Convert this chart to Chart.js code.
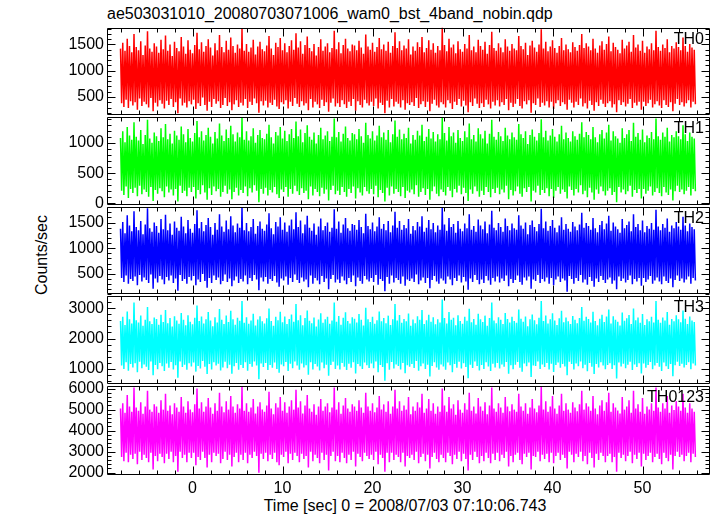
<!DOCTYPE html>
<html lang="en">
<head>
<meta charset="utf-8">
<script src="https://cdn.jsdelivr.net/npm/chart.js@4.4.1/dist/chart.umd.min.js"></script>
<style>
  body { margin: 0; background: #fff; width: 717px; height: 516px; position: relative; overflow: hidden;
         font-family: "Liberation Sans", Arial, sans-serif; color: #000; }
  canvas { position: absolute; left: 0; }
  .title { position: absolute; left: 107px; top: 6px; font-size: 16px; line-height: 16px; white-space: nowrap; }
  .ylabel { position: absolute; left: 42px; top: 255px; font-size: 16px; line-height: 16px; white-space: nowrap;
            transform: translate(-50%, -50%) rotate(-90deg); }
  .xlabel { position: absolute; left: 405px; top: 498px; font-size: 16px; line-height: 16px; white-space: nowrap;
            transform: translateX(-50%); }
</style>
</head>
<body>
<div class="title">ae503031010_20080703071006_wam0_bst_4band_nobin.qdp</div>
<div class="ylabel">Counts/sec</div>
<div class="xlabel">Time [sec] 0 = 2008/07/03 07:10:06.743</div>
<div id="charts"></div>
<script>
// light curve samples, one every 0.125 s starting at -8 s
const tStart = -8;
const tStep = 0.125;

const th0 = [
  1420,380,1530,310,1380,450,1610,290,1470,420,1350,340,1700,400,1450,260,
  1390,470,1560,330,1300,410,1480,360,1750,300,1420,480,1360,230,1520,390,
  1460,320,1340,440,1590,370,1410,280,1670,430,1380,350,1500,460,1280,310,
  1550,400,1430,190,1370,470,1640,340,1460,390,1320,300,1580,420,1400,360,
  1330,450,1490,270,1720,380,1410,330,1540,490,1360,350,1470,240,1600,410,
  1440,310,1290,460,1520,370,1390,420,1680,290,1450,350,1350,480,1570,330,
  1400,400,1630,250,1470,360,1340,440,1500,310,1420,390,1800,340,1380,460,
  1510,290,1360,410,1440,350,1590,470,1310,380,1460,200,1550,420,1410,340,
  1370,430,1480,300,1660,390,1420,350,1300,450,1530,320,1450,270,1620,400,
  1390,360,1520,440,1350,280,1470,410,1580,330,1400,480,1710,370,1440,310,
  1560,420,1320,340,1490,380,1650,250,1430,460,1370,300,1510,410,1290,360,
  1450,290,1600,450,1380,330,1460,400,1520,220,1350,390,1430,470,1760,320,
  1410,380,1540,310,1330,440,1490,360,1610,290,1420,410,1370,330,1500,460,
  1480,240,1390,420,1570,350,1440,300,1320,450,1690,380,1460,340,1400,410,
  1530,330,1360,470,1450,280,1620,390,1410,350,1500,190,1380,430,1550,300,
  1340,460,1470,320,1730,410,1430,370,1560,300,1390,440,1480,260,1420,380,
  1600,350,1310,400,1460,330,1380,480,1540,290,1450,360,1640,420,1350,310,
  1430,410,1580,230,1400,370,1520,450,1340,340,1470,300,1390,400,1820,360,
  1490,300,1370,440,1610,380,1440,270,1500,410,1330,350,1560,460,1410,320,
  1360,430,1510,340,1420,210,1680,400,1390,330,1460,470,1350,370,1590,290,
  1470,380,1400,310,1550,450,1320,360,1490,280,1740,410,1430,340,1380,440,
  1520,320,1440,400,1350,350,1600,460,1460,250,1380,390,1510,310,1420,370,
  1390,460,1660,330,1470,280,1410,420,1530,360,1300,440,1480,200,1570,380,
  1440,350,1360,470,1500,310,1790,390,1420,340,1550,420,1370,300,1460,410,
  1580,270,1430,380,1340,440,1470,330,1620,400,1390,360,1500,260,1410,450,
  1350,390,1540,300,1450,410,1380,350,1490,470,1700,320,1430,380,1520,280,
  1460,430,1390,350,1610,240,1420,400,1340,330,1480,450,1560,370,1400,310,
  1510,380,1650,420,1370,300,1530,360,1450,210,1400,440,1330,350,1590,400,
  1420,320,1480,370,1550,460,1360,290,1680,390,1440,340,1500,410,1380,260,
  1570,410,1340,330,1460,380,1410,450,1520,300,1390,360,1760,420,1450,340,
  1380,290,1500,440,1430,350,1600,310,1350,400,1470,230,1420,370,1540,460,
  1450,350,1390,400,1630,320,1470,380,1360,440,1510,300,1440,410,1400,360
];
const th1 = [
  1080,210,1190,140,1010,280,1260,90,1120,240,1050,170,1340,260,1100,120,
  1040,290,1210,150,980,230,1130,190,1380,110,1070,270,1000,40,1170,220,
  1110,160,1030,250,1240,200,1090,100,1310,280,1060,180,1150,230,990,130,
  1200,240,1120,30,1050,290,1270,170,1140,210,1010,120,1230,260,1080,190,
  1020,270,1160,80,1360,220,1090,150,1190,300,1040,180,1130,60,1250,250,
  1100,140,990,280,1180,200,1070,240,1320,110,1120,190,1030,290,1220,160,
  1080,230,1280,70,1140,190,1020,260,1170,130,1090,220,1420,170,1050,280,
  1190,120,1040,250,1110,180,1240,300,1000,210,1130,20,1210,240,1080,160,
  1060,260,1150,130,1300,220,1090,180,990,270,1180,150,1120,90,1260,230,
  1070,190,1200,270,1030,110,1140,240,1230,160,1080,290,1350,200,1110,140,
  1220,250,1010,170,1160,210,1290,70,1100,280,1050,130,1170,240,990,190,
  1130,120,1250,260,1060,160,1120,230,1190,50,1030,220,1100,290,1400,150,
  1090,210,1180,140,1020,270,1150,190,1270,110,1080,240,1040,170,1160,280,
  1140,80,1060,250,1230,180,1110,130,1000,270,1330,200,1130,160,1070,240,
  1190,150,1040,290,1120,100,1280,220,1090,170,1170,30,1050,260,1210,130,
  1010,280,1140,160,1370,240,1100,190,1220,120,1060,270,1150,90,1080,210,
  1250,180,990,230,1130,150,1050,300,1200,110,1120,190,1300,250,1030,140,
  1100,240,1230,60,1070,200,1180,280,1020,160,1140,120,1060,230,1410,190,
  1160,130,1040,270,1260,210,1110,100,1170,240,1000,180,1210,290,1080,150,
  1030,260,1190,170,1090,40,1320,230,1060,160,1130,280,1020,200,1240,110,
  1140,210,1070,140,1200,270,990,190,1150,100,1380,240,1100,170,1050,260,
  1180,150,1110,230,1030,180,1250,290,1120,70,1060,220,1170,130,1090,200,
  1050,280,1310,160,1140,110,1080,250,1190,190,980,270,1130,30,1220,210,
  1100,180,1040,290,1160,140,1390,220,1090,170,1200,250,1040,120,1120,240,
  1230,90,1100,210,1020,270,1140,160,1280,230,1060,190,1170,80,1080,280,
  1020,220,1190,130,1110,240,1050,180,1150,300,1340,150,1090,210,1180,100,
  1130,260,1060,180,1260,60,1090,230,1010,160,1140,280,1210,200,1070,130,
  1170,210,1300,250,1040,140,1190,190,1110,20,1070,270,1000,180,1240,230,
  1080,150,1140,200,1210,290,1030,110,1330,220,1100,170,1160,240,1050,80,
  1220,240,1010,160,1120,210,1080,280,1180,130,1060,190,1400,250,1110,170,
  1050,120,1170,270,1100,180,1250,140,1020,230,1130,50,1090,200,1190,290,
  1110,190,1060,230,1290,150,1140,210,1030,270,1170,130,1100,240,1070,200
];
const th2 = [
  1380,420,1510,340,1290,470,1640,310,1440,400,1330,360,1720,450,1410,280,
  1350,480,1530,350,1270,430,1460,380,1780,320,1390,490,1320,210,1500,410,
  1430,330,1300,460,1570,390,1370,300,1650,440,1350,370,1480,470,1260,320,
  1520,410,1400,170,1340,480,1610,360,1420,400,1290,310,1550,440,1380,370,
  1300,460,1470,280,1740,390,1390,340,1510,500,1330,360,1450,230,1590,420,
  1410,320,1260,470,1490,380,1360,430,1660,300,1420,360,1320,490,1540,340,
  1370,410,1620,260,1440,370,1310,450,1480,320,1400,400,1800,350,1350,470,
  1490,300,1330,420,1410,360,1570,480,1280,390,1430,180,1520,430,1380,350,
  1340,440,1460,310,1680,400,1390,360,1270,460,1510,330,1420,250,1600,410,
  1360,370,1500,450,1320,290,1440,420,1560,340,1370,490,1700,380,1410,320,
  1540,430,1290,350,1460,390,1630,240,1400,470,1340,310,1480,420,1260,370,
  1420,300,1580,460,1350,340,1430,410,1500,200,1320,400,1400,480,1760,330,
  1380,390,1520,320,1300,450,1460,370,1590,300,1390,420,1340,340,1470,470,
  1450,260,1360,430,1550,360,1410,310,1290,460,1670,390,1430,350,1370,420,
  1500,340,1330,480,1420,290,1600,400,1380,360,1470,160,1350,440,1530,310,
  1310,470,1440,330,1710,420,1400,380,1530,310,1360,450,1450,270,1390,390,
  1570,360,1280,410,1430,340,1350,490,1510,300,1420,370,1620,430,1320,320,
  1400,420,1550,220,1370,380,1490,460,1310,350,1440,310,1360,410,1790,370,
  1460,310,1340,450,1590,390,1410,280,1470,420,1300,360,1530,470,1380,330,
  1330,440,1480,350,1390,190,1660,410,1360,340,1430,480,1320,380,1560,300,
  1440,390,1370,320,1520,460,1290,370,1460,290,1730,420,1400,350,1350,450,
  1490,330,1410,410,1320,360,1580,470,1430,260,1350,400,1480,320,1390,380,
  1360,470,1640,340,1440,290,1380,430,1500,370,1270,450,1450,210,1540,390,
  1410,360,1330,480,1470,320,1770,400,1390,350,1520,430,1340,310,1430,420,
  1550,280,1400,390,1310,450,1440,340,1600,410,1360,370,1470,150,1380,460,
  1320,400,1510,310,1420,420,1350,360,1460,480,1690,330,1400,390,1490,290,
  1430,440,1360,360,1590,250,1390,410,1310,340,1450,460,1530,380,1370,320,
  1480,390,1630,430,1340,310,1500,370,1420,200,1370,450,1300,360,1570,410,
  1390,330,1450,380,1520,470,1330,300,1660,400,1410,350,1470,420,1350,270,
  1540,420,1310,340,1430,390,1380,460,1490,310,1360,370,1750,430,1420,350,
  1350,300,1470,450,1400,360,1580,320,1320,410,1440,240,1390,380,1510,470,
  1420,360,1360,410,1610,330,1440,390,1330,450,1480,310,1410,420,1370,370
];
const th3 = [
  2580,1100,2720,990,2450,1210,2900,930,2640,1150,2500,1040,3200,1180,2610,880,
  2530,1230,2760,1010,2420,1140,2620,1060,3050,950,2570,1240,2480,780,2700,1120,
  2650,980,2460,1190,2790,1080,2550,920,2950,1170,2510,1030,2680,1220,2400,970,
  2740,1110,2600,700,2490,1240,2850,1050,2620,1130,2440,960,2770,1180,2560,1070,
  2470,1200,2690,900,3100,1090,2580,1000,2730,1250,2500,1060,2640,820,2880,1150,
  2600,970,2410,1210,2710,1100,2530,1160,2980,940,2620,1040,2480,1230,2760,1010,
  2550,1130,2920,830,2640,1080,2460,1190,2690,960,2590,1120,3250,1020,2520,1210,
  2710,930,2490,1150,2600,1060,2820,1240,2430,1100,2630,650,2740,1170,2570,1050,
  2500,1190,2670,950,3000,1120,2580,1030,2420,1200,2720,990,2610,860,2890,1140,
  2540,1080,2730,1220,2480,920,2650,1160,2800,1010,2560,1240,3150,1100,2610,960,
  2770,1170,2440,1040,2680,1110,2930,800,2590,1210,2510,970,2700,1150,2400,1070,
  2630,940,2840,1200,2520,1010,2640,1130,2720,760,2490,1120,2600,1230,3200,990,
  2560,1100,2750,970,2460,1190,2690,1060,2870,950,2580,1160,2500,1030,2710,1210,
  2660,840,2530,1150,2810,1080,2620,990,2430,1200,3020,1110,2640,1020,2550,1170,
  2720,1010,2490,1240,2610,880,2900,1120,2570,1050,2680,600,2510,1180,2760,960,
  2450,1220,2640,1000,3150,1140,2600,1090,2780,970,2520,1190,2650,850,2570,1110,
  2830,1060,2420,1150,2630,1020,2510,1250,2740,930,2620,1080,2950,1170,2480,990,
  2610,1130,2790,740,2560,1090,2710,1210,2470,1040,2640,960,2530,1140,3300,1070,
  2680,960,2500,1200,2880,1110,2620,880,2690,1150,2440,1030,2770,1230,2580,1000,
  2490,1180,2720,1050,2590,680,2990,1130,2540,1020,2650,1240,2460,1090,2820,940,
  2640,1120,2550,990,2760,1210,2420,1070,2680,920,3200,1160,2600,1040,2510,1190,
  2710,1000,2620,1140,2480,1060,2850,1220,2650,830,2530,1110,2720,980,2580,1130,
  2520,1220,2960,1030,2660,900,2560,1170,2730,1080,2410,1200,2640,720,2800,1100,
  2610,1090,2470,1240,2690,990,3250,1140,2580,1050,2760,1190,2500,970,2640,1160,
  2840,890,2600,1120,2450,1200,2670,1030,2920,1150,2540,1070,2700,780,2570,1230,
  2480,1150,2750,970,2620,1170,2510,1080,2680,1240,3050,1010,2590,1130,2720,910,
  2650,1190,2530,1060,2890,820,2580,1150,2440,1040,2660,1210,2790,1100,2550,980,
  2730,1120,2960,1180,2500,990,2740,1110,2620,670,2560,1200,2430,1070,2860,1160,
  2590,1010,2670,1130,2780,1230,2480,950,3000,1140,2610,1050,2700,1180,2520,840,
  2810,1170,2450,1030,2640,1120,2570,1220,2720,980,2530,1100,3250,1190,2620,1060,
  2520,920,2700,1200,2600,1080,2880,990,2460,1150,2650,750,2570,1110,2770,1230,
  2640,1090,2540,1160,2930,1040,2660,1120,2480,1210,2730,980,2600,1170,2550,1100
];
const th0123 = [
  5050,2750,5300,2550,4850,2950,5700,2500,5150,2850,4900,2650,6050,2900,5100,2400,
  4950,3000,5350,2600,4800,2850,5150,2700,5900,2500,5000,2950,4900,2150,5250,2800,
  5150,2550,4850,2900,5450,2750,5000,2450,5750,2900,4950,2650,5200,3000,4780,2500,
  5300,2800,5100,2050,4900,3000,5600,2700,5150,2850,4850,2500,5400,2950,5000,2700,
  4880,2950,5250,2350,6000,2750,5050,2600,5350,3000,4900,2700,5150,2250,5550,2850,
  5100,2500,4800,2950,5300,2800,4950,2900,5800,2450,5150,2650,4870,3000,5400,2600,
  5000,2850,5650,2300,5150,2750,4850,2950,5250,2500,5050,2850,6100,2600,4950,2950,
  5300,2450,4900,2850,5100,2700,5500,3000,4820,2800,5150,2000,5350,2900,5000,2650,
  4900,2950,5200,2550,5850,2850,5050,2650,4780,2950,5300,2500,5100,2350,5600,2850,
  4950,2750,5350,3000,4850,2450,5150,2900,5450,2600,5000,2950,5950,2800,5100,2500,
  5400,2900,4820,2650,5200,2800,5700,2250,5050,3000,4900,2550,5250,2850,4760,2700,
  5150,2450,5500,2950,4950,2600,5150,2850,5300,2100,4880,2800,5100,3000,6050,2550,
  5000,2800,5350,2500,4800,2950,5200,2700,5550,2450,5050,2850,4900,2600,5250,3000,
  5150,2300,4950,2900,5450,2750,5100,2550,4850,2950,5800,2800,5150,2650,4950,2850,
  5300,2600,4870,3000,5100,2400,5650,2850,5000,2700,5250,2050,4900,2950,5400,2500,
  4800,2950,5150,2600,5950,2850,5050,2750,5400,2500,4950,2950,5200,2300,5000,2800,
  5600,2700,4780,2850,5150,2600,4950,3000,5350,2450,5100,2750,5750,2900,4850,2550,
  5050,2850,5500,2200,4950,2750,5300,2950,4800,2650,5150,2500,4900,2850,6000,2700,
  5200,2500,4900,2950,5600,2800,5050,2400,5250,2850,4760,2650,5450,3000,5000,2550,
  4850,2900,5300,2650,5000,2100,5800,2850,4950,2600,5150,3000,4820,2750,5550,2450,
  5150,2800,4950,2550,5350,2950,4780,2700,5200,2450,6050,2900,5050,2600,4900,2950,
  5300,2550,5100,2850,4850,2700,5600,3000,5150,2300,4920,2800,5250,2500,5000,2850,
  4900,2950,5750,2600,5150,2400,4950,2900,5300,2750,4800,2950,5100,2150,5500,2800,
  5050,2750,4880,3000,5200,2550,6100,2850,5000,2650,5400,2900,4900,2500,5150,2950,
  5650,2450,5050,2800,4800,2950,5200,2600,5750,2850,4950,2700,5300,2200,5000,3000,
  4850,2850,5350,2500,5100,2900,4920,2750,5250,3000,5900,2550,5000,2800,5300,2400,
  5150,2950,4950,2700,5650,2250,5050,2900,4780,2600,5200,2950,5450,2800,4950,2500,
  5350,2800,5800,2900,4900,2500,5300,2750,5100,2050,4960,2950,4820,2700,5600,2850,
  5000,2550,5150,2800,5450,3000,4850,2450,5900,2850,5050,2650,5250,2950,4900,2300,
  5550,2900,4800,2600,5150,2800,5000,2950,5300,2500,4950,2750,6050,2900,5100,2650,
  4900,2400,5300,2950,5050,2700,5650,2550,4850,2850,5200,2150,4980,2800,5400,3000,
  5150,2750,4950,2850,5750,2550,5100,2800,4850,2950,5300,2500,5050,2900,4900,2750
];

const bandNames = ['TH0', 'TH1', 'TH2', 'TH3', 'TH0123'];
const bandColors = ['#ff0000', '#00ff00', '#0000ff', '#00ffff', '#ff00ff'];
const th0Ticks = [500, 1000, 1500];
const th1Ticks = [0, 500, 1000];
const th2Ticks = [500, 1000, 1500];
const th3Ticks = [1000, 2000, 3000];
const th0123Ticks = [2000, 3000, 4000, 5000, 6000];
const xTicks = [0, 10, 20, 30, 40, 50];

const panels = [
  { data: th0, ticks: th0Ticks, min: 150, max: 1820, minor: 100, major: 500 },
  { data: th1, ticks: th1Ticks, min: -33, max: 1433, minor: 100, major: 500 },
  { data: th2, ticks: th2Ticks, min: 100, max: 1810, minor: 100, major: 500 },
  { data: th3, ticks: th3Ticks, min: 475, max: 3426, minor: 200, major: 1000 },
  { data: th0123, ticks: th0123Ticks, min: 1890, max: 6144, minor: 200, major: 1000 }
];

// page layout of the stacked boxes
const panelTop = [27, 116, 206, 295, 385];
const panelBottom = 475;
const FONT = '"Liberation Sans", Arial, sans-serif';

Chart.defaults.font.family = FONT;
Chart.defaults.font.size = 16;
Chart.defaults.color = '#000';

// box + inward ticks on all four sides, band name top right
const framePlugin = {
  id: 'frame',
  afterDraw(chart, args, o) {
    const { ctx, chartArea: a } = chart;
    const xs = chart.scales.x, ys = chart.scales.y;
    const L = Math.round(a.left) + 0.5, R = Math.round(a.right) - 0.5;
    const T = Math.round(a.top) + 0.5, B = Math.round(a.bottom) - 0.5;
    ctx.save();
    ctx.strokeStyle = '#000';
    ctx.lineWidth = 1;
    ctx.beginPath();
    ctx.rect(L, T, R - L, B - T);
    for (let v = Math.ceil(xs.min / 2) * 2; v <= xs.max; v += 2) {
      const px = Math.round(xs.getPixelForValue(v)) + 0.5;
      const len = v % 10 === 0 ? 8 : 4;
      ctx.moveTo(px, T); ctx.lineTo(px, T + len);
      ctx.moveTo(px, B); ctx.lineTo(px, B - len);
    }
    for (let v = Math.ceil(ys.min / o.minor) * o.minor; v <= ys.max; v += o.minor) {
      const py = Math.round(ys.getPixelForValue(v)) + 0.5;
      const len = v % o.major === 0 ? 8 : 4;
      ctx.moveTo(L, py); ctx.lineTo(L + len, py);
      ctx.moveTo(R, py); ctx.lineTo(R - len, py);
    }
    ctx.stroke();
    ctx.fillStyle = '#000';
    ctx.font = '16px ' + FONT;
    ctx.textAlign = 'right';
    ctx.textBaseline = 'alphabetic';
    ctx.fillText(o.label, a.right - 6, a.top + 16);
    ctx.restore();
  }
};

const holder = document.getElementById('charts');
panels.forEach((p, i) => {
  const last = i === panels.length - 1;
  const top = panelTop[i];
  const h = (last ? panelBottom : panelTop[i + 1]) - top;
  const cv = document.createElement('canvas');
  cv.width = 717;
  cv.height = 12 + h + (last ? 30 : 12);
  cv.style.top = (top - 12) + 'px';
  holder.appendChild(cv);

  new Chart(cv, {
    type: 'line',
    data: {
      datasets: [{
        data: p.data.map((v, k) => ({ x: tStart + k * tStep, y: v })),
        borderColor: bandColors[i],
        borderWidth: 1.5,
        pointRadius: 0,
        tension: 0,
        fill: false
      }]
    },
    options: {
      responsive: false,
      animation: false,
      events: [],
      layout: { padding: { left: 0, right: 7, top: 12, bottom: last ? 0 : 12 } },
      plugins: {
        legend: { display: false },
        tooltip: { enabled: false },
        frame: { label: bandNames[i], minor: p.minor, major: p.major }
      },
      scales: {
        x: {
          type: 'linear', min: -9.5, max: 57.5, display: last,
          grid: { display: false, drawTicks: false },
          border: { display: false },
          ticks: { padding: 4, maxRotation: 0, autoSkip: false, callback: v => String(v) },
          afterBuildTicks: s => { s.ticks = xTicks.map(v => ({ value: v })); },
          afterFit: s => { s.height = last ? 30 : 0; }
        },
        y: {
          min: p.min, max: p.max,
          grid: { display: false, drawTicks: false },
          border: { display: false },
          ticks: { padding: 3, autoSkip: false, callback: v => String(v) },
          afterBuildTicks: s => { s.ticks = p.ticks.map(v => ({ value: v })); },
          afterFit: s => { s.width = 107; }
        }
      }
    },
    plugins: [framePlugin]
  });
});
</script>
</body>
</html>
